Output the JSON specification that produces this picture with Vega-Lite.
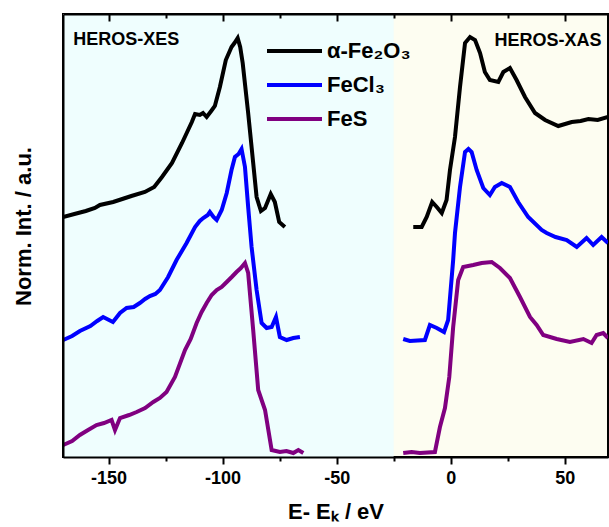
{
  "$schema": "https://vega.github.io/schema/vega-lite/v6.json",
  "width": 545,
  "height": 443,
  "autosize": "none",
  "padding": {"left": 63, "top": 14, "right": 1, "bottom": 70},
  "datasets": {
    "regions": [
      {"region": "HEROS-XES", "start": -170, "end": -25},
      {"region": "HEROS-XAS", "start": -25, "end": 69}
    ],
    "spectra": [
      {"sample": "α-Fe₂O₃", "region": "XES", "E": -170, "I": 240},
      {"sample": "α-Fe₂O₃", "region": "XES", "E": -165, "I": 243},
      {"sample": "α-Fe₂O₃", "region": "XES", "E": -160, "I": 246},
      {"sample": "α-Fe₂O₃", "region": "XES", "E": -156, "I": 249},
      {"sample": "α-Fe₂O₃", "region": "XES", "E": -153.8, "I": 252},
      {"sample": "α-Fe₂O₃", "region": "XES", "E": -148, "I": 255},
      {"sample": "α-Fe₂O₃", "region": "XES", "E": -144, "I": 258},
      {"sample": "α-Fe₂O₃", "region": "XES", "E": -140, "I": 261},
      {"sample": "α-Fe₂O₃", "region": "XES", "E": -134.1, "I": 265},
      {"sample": "α-Fe₂O₃", "region": "XES", "E": -130, "I": 270},
      {"sample": "α-Fe₂O₃", "region": "XES", "E": -126.6, "I": 280},
      {"sample": "α-Fe₂O₃", "region": "XES", "E": -122.2, "I": 294},
      {"sample": "α-Fe₂O₃", "region": "XES", "E": -117.8, "I": 314},
      {"sample": "α-Fe₂O₃", "region": "XES", "E": -113.5, "I": 335},
      {"sample": "α-Fe₂O₃", "region": "XES", "E": -112.1, "I": 343},
      {"sample": "α-Fe₂O₃", "region": "XES", "E": -110, "I": 342},
      {"sample": "α-Fe₂O₃", "region": "XES", "E": -108.6, "I": 344},
      {"sample": "α-Fe₂O₃", "region": "XES", "E": -107, "I": 340},
      {"sample": "α-Fe₂O₃", "region": "XES", "E": -105, "I": 346},
      {"sample": "α-Fe₂O₃", "region": "XES", "E": -103.4, "I": 351},
      {"sample": "α-Fe₂O₃", "region": "XES", "E": -101.2, "I": 370},
      {"sample": "α-Fe₂O₃", "region": "XES", "E": -98.6, "I": 397},
      {"sample": "α-Fe₂O₃", "region": "XES", "E": -96.1, "I": 410},
      {"sample": "α-Fe₂O₃", "region": "XES", "E": -94.8, "I": 414},
      {"sample": "α-Fe₂O₃", "region": "XES", "E": -93.4, "I": 419},
      {"sample": "α-Fe₂O₃", "region": "XES", "E": -92.3, "I": 410},
      {"sample": "α-Fe₂O₃", "region": "XES", "E": -91.2, "I": 394},
      {"sample": "α-Fe₂O₃", "region": "XES", "E": -88.8, "I": 344},
      {"sample": "α-Fe₂O₃", "region": "XES", "E": -87.3, "I": 310},
      {"sample": "α-Fe₂O₃", "region": "XES", "E": -85.1, "I": 260},
      {"sample": "α-Fe₂O₃", "region": "XES", "E": -83.2, "I": 246},
      {"sample": "α-Fe₂O₃", "region": "XES", "E": -81.4, "I": 249},
      {"sample": "α-Fe₂O₃", "region": "XES", "E": -78.9, "I": 263},
      {"sample": "α-Fe₂O₃", "region": "XES", "E": -77.1, "I": 255},
      {"sample": "α-Fe₂O₃", "region": "XES", "E": -75.2, "I": 235},
      {"sample": "α-Fe₂O₃", "region": "XES", "E": -72.7, "I": 230},
      {"sample": "FeCl₃", "region": "XES", "E": -169.9, "I": 117},
      {"sample": "FeCl₃", "region": "XES", "E": -166, "I": 121},
      {"sample": "FeCl₃", "region": "XES", "E": -162.6, "I": 126},
      {"sample": "FeCl₃", "region": "XES", "E": -158, "I": 131},
      {"sample": "FeCl₃", "region": "XES", "E": -155, "I": 136},
      {"sample": "FeCl₃", "region": "XES", "E": -152.4, "I": 140},
      {"sample": "FeCl₃", "region": "XES", "E": -148.1, "I": 135},
      {"sample": "FeCl₃", "region": "XES", "E": -145, "I": 144},
      {"sample": "FeCl₃", "region": "XES", "E": -142.1, "I": 149},
      {"sample": "FeCl₃", "region": "XES", "E": -139, "I": 150},
      {"sample": "FeCl₃", "region": "XES", "E": -136.3, "I": 154},
      {"sample": "FeCl₃", "region": "XES", "E": -134, "I": 158},
      {"sample": "FeCl₃", "region": "XES", "E": -131.9, "I": 161},
      {"sample": "FeCl₃", "region": "XES", "E": -129.5, "I": 163},
      {"sample": "FeCl₃", "region": "XES", "E": -127.5, "I": 167},
      {"sample": "FeCl₃", "region": "XES", "E": -123.9, "I": 180},
      {"sample": "FeCl₃", "region": "XES", "E": -120.2, "I": 197},
      {"sample": "FeCl₃", "region": "XES", "E": -115.8, "I": 214},
      {"sample": "FeCl₃", "region": "XES", "E": -112.1, "I": 230},
      {"sample": "FeCl₃", "region": "XES", "E": -110, "I": 236},
      {"sample": "FeCl₃", "region": "XES", "E": -108.5, "I": 239},
      {"sample": "FeCl₃", "region": "XES", "E": -106.5, "I": 242},
      {"sample": "FeCl₃", "region": "XES", "E": -105.6, "I": 245},
      {"sample": "FeCl₃", "region": "XES", "E": -104, "I": 240},
      {"sample": "FeCl₃", "region": "XES", "E": -102.6, "I": 237},
      {"sample": "FeCl₃", "region": "XES", "E": -100.4, "I": 247},
      {"sample": "FeCl₃", "region": "XES", "E": -98.2, "I": 264},
      {"sample": "FeCl₃", "region": "XES", "E": -96.1, "I": 287},
      {"sample": "FeCl₃", "region": "XES", "E": -94.6, "I": 300},
      {"sample": "FeCl₃", "region": "XES", "E": -93, "I": 303},
      {"sample": "FeCl₃", "region": "XES", "E": -91.7, "I": 308},
      {"sample": "FeCl₃", "region": "XES", "E": -90.2, "I": 290},
      {"sample": "FeCl₃", "region": "XES", "E": -88.8, "I": 250},
      {"sample": "FeCl₃", "region": "XES", "E": -87.3, "I": 210},
      {"sample": "FeCl₃", "region": "XES", "E": -85.1, "I": 167},
      {"sample": "FeCl₃", "region": "XES", "E": -82.9, "I": 134},
      {"sample": "FeCl₃", "region": "XES", "E": -80.7, "I": 129},
      {"sample": "FeCl₃", "region": "XES", "E": -78.5, "I": 130},
      {"sample": "FeCl₃", "region": "XES", "E": -76.6, "I": 140},
      {"sample": "FeCl₃", "region": "XES", "E": -74.9, "I": 120},
      {"sample": "FeCl₃", "region": "XES", "E": -71.9, "I": 117},
      {"sample": "FeCl₃", "region": "XES", "E": -69, "I": 119},
      {"sample": "FeCl₃", "region": "XES", "E": -66.1, "I": 120},
      {"sample": "FeS", "region": "XES", "E": -169.9, "I": 12},
      {"sample": "FeS", "region": "XES", "E": -166, "I": 16},
      {"sample": "FeS", "region": "XES", "E": -162.6, "I": 22},
      {"sample": "FeS", "region": "XES", "E": -159, "I": 27},
      {"sample": "FeS", "region": "XES", "E": -155.3, "I": 32},
      {"sample": "FeS", "region": "XES", "E": -152, "I": 34},
      {"sample": "FeS", "region": "XES", "E": -148.7, "I": 37},
      {"sample": "FeS", "region": "XES", "E": -147.2, "I": 27},
      {"sample": "FeS", "region": "XES", "E": -145, "I": 39},
      {"sample": "FeS", "region": "XES", "E": -141, "I": 42},
      {"sample": "FeS", "region": "XES", "E": -137.7, "I": 45},
      {"sample": "FeS", "region": "XES", "E": -134, "I": 49},
      {"sample": "FeS", "region": "XES", "E": -130.4, "I": 55},
      {"sample": "FeS", "region": "XES", "E": -127.5, "I": 59},
      {"sample": "FeS", "region": "XES", "E": -124.6, "I": 65},
      {"sample": "FeS", "region": "XES", "E": -120.9, "I": 80},
      {"sample": "FeS", "region": "XES", "E": -116.5, "I": 107},
      {"sample": "FeS", "region": "XES", "E": -114, "I": 118},
      {"sample": "FeS", "region": "XES", "E": -111.4, "I": 134},
      {"sample": "FeS", "region": "XES", "E": -109.2, "I": 145},
      {"sample": "FeS", "region": "XES", "E": -107, "I": 154},
      {"sample": "FeS", "region": "XES", "E": -104.8, "I": 162},
      {"sample": "FeS", "region": "XES", "E": -102.6, "I": 167},
      {"sample": "FeS", "region": "XES", "E": -100.4, "I": 170},
      {"sample": "FeS", "region": "XES", "E": -98.2, "I": 175},
      {"sample": "FeS", "region": "XES", "E": -96, "I": 180},
      {"sample": "FeS", "region": "XES", "E": -93.9, "I": 185},
      {"sample": "FeS", "region": "XES", "E": -92, "I": 189},
      {"sample": "FeS", "region": "XES", "E": -90.2, "I": 194},
      {"sample": "FeS", "region": "XES", "E": -88.8, "I": 184},
      {"sample": "FeS", "region": "XES", "E": -86.6, "I": 127},
      {"sample": "FeS", "region": "XES", "E": -84.4, "I": 67},
      {"sample": "FeS", "region": "XES", "E": -81.4, "I": 47},
      {"sample": "FeS", "region": "XES", "E": -78.5, "I": 7},
      {"sample": "FeS", "region": "XES", "E": -74.9, "I": 5},
      {"sample": "FeS", "region": "XES", "E": -72, "I": 6},
      {"sample": "FeS", "region": "XES", "E": -69, "I": 4},
      {"sample": "FeS", "region": "XES", "E": -66.8, "I": 7},
      {"sample": "FeS", "region": "XES", "E": -64.6, "I": 4},
      {"sample": "α-Fe₂O₃", "region": "XAS", "E": -16.4, "I": 230},
      {"sample": "α-Fe₂O₃", "region": "XAS", "E": -12.7, "I": 230},
      {"sample": "α-Fe₂O₃", "region": "XAS", "E": -10.5, "I": 240},
      {"sample": "α-Fe₂O₃", "region": "XAS", "E": -8.1, "I": 255},
      {"sample": "α-Fe₂O₃", "region": "XAS", "E": -6.1, "I": 250},
      {"sample": "α-Fe₂O₃", "region": "XAS", "E": -3.9, "I": 244},
      {"sample": "α-Fe₂O₃", "region": "XAS", "E": -1.8, "I": 257},
      {"sample": "α-Fe₂O₃", "region": "XAS", "E": -0.3, "I": 287},
      {"sample": "α-Fe₂O₃", "region": "XAS", "E": 1.9, "I": 320},
      {"sample": "α-Fe₂O₃", "region": "XAS", "E": 4.1, "I": 370},
      {"sample": "α-Fe₂O₃", "region": "XAS", "E": 6.3, "I": 414},
      {"sample": "α-Fe₂O₃", "region": "XAS", "E": 8.5, "I": 420},
      {"sample": "α-Fe₂O₃", "region": "XAS", "E": 10.7, "I": 417},
      {"sample": "α-Fe₂O₃", "region": "XAS", "E": 12.9, "I": 404},
      {"sample": "α-Fe₂O₃", "region": "XAS", "E": 15, "I": 385},
      {"sample": "α-Fe₂O₃", "region": "XAS", "E": 17.2, "I": 377},
      {"sample": "α-Fe₂O₃", "region": "XAS", "E": 20.9, "I": 375},
      {"sample": "α-Fe₂O₃", "region": "XAS", "E": 23.1, "I": 385},
      {"sample": "α-Fe₂O₃", "region": "XAS", "E": 26, "I": 389},
      {"sample": "α-Fe₂O₃", "region": "XAS", "E": 28.9, "I": 377},
      {"sample": "α-Fe₂O₃", "region": "XAS", "E": 32.6, "I": 360},
      {"sample": "α-Fe₂O₃", "region": "XAS", "E": 37, "I": 344},
      {"sample": "α-Fe₂O₃", "region": "XAS", "E": 41.4, "I": 337},
      {"sample": "α-Fe₂O₃", "region": "XAS", "E": 47.2, "I": 331},
      {"sample": "α-Fe₂O₃", "region": "XAS", "E": 53.1, "I": 335},
      {"sample": "α-Fe₂O₃", "region": "XAS", "E": 57, "I": 336},
      {"sample": "α-Fe₂O₃", "region": "XAS", "E": 60.4, "I": 338},
      {"sample": "α-Fe₂O₃", "region": "XAS", "E": 64.5, "I": 337},
      {"sample": "α-Fe₂O₃", "region": "XAS", "E": 69, "I": 340},
      {"sample": "FeCl₃", "region": "XAS", "E": -20.8, "I": 118},
      {"sample": "FeCl₃", "region": "XAS", "E": -17.9, "I": 116},
      {"sample": "FeCl₃", "region": "XAS", "E": -11.3, "I": 117},
      {"sample": "FeCl₃", "region": "XAS", "E": -9.1, "I": 132},
      {"sample": "FeCl₃", "region": "XAS", "E": -6.1, "I": 129},
      {"sample": "FeCl₃", "region": "XAS", "E": -2.9, "I": 125},
      {"sample": "FeCl₃", "region": "XAS", "E": -1.1, "I": 137},
      {"sample": "FeCl₃", "region": "XAS", "E": 1.1, "I": 197},
      {"sample": "FeCl₃", "region": "XAS", "E": 1.9, "I": 224},
      {"sample": "FeCl₃", "region": "XAS", "E": 4.1, "I": 270},
      {"sample": "FeCl₃", "region": "XAS", "E": 6.3, "I": 305},
      {"sample": "FeCl₃", "region": "XAS", "E": 7.8, "I": 308},
      {"sample": "FeCl₃", "region": "XAS", "E": 9.2, "I": 305},
      {"sample": "FeCl₃", "region": "XAS", "E": 11.4, "I": 287},
      {"sample": "FeCl₃", "region": "XAS", "E": 14.3, "I": 269},
      {"sample": "FeCl₃", "region": "XAS", "E": 17.2, "I": 262},
      {"sample": "FeCl₃", "region": "XAS", "E": 19.4, "I": 270},
      {"sample": "FeCl₃", "region": "XAS", "E": 22.4, "I": 274},
      {"sample": "FeCl₃", "region": "XAS", "E": 26, "I": 270},
      {"sample": "FeCl₃", "region": "XAS", "E": 29.6, "I": 255},
      {"sample": "FeCl₃", "region": "XAS", "E": 34, "I": 240},
      {"sample": "FeCl₃", "region": "XAS", "E": 39.9, "I": 227},
      {"sample": "FeCl₃", "region": "XAS", "E": 42.1, "I": 224},
      {"sample": "FeCl₃", "region": "XAS", "E": 46, "I": 220},
      {"sample": "FeCl₃", "region": "XAS", "E": 50.9, "I": 217},
      {"sample": "FeCl₃", "region": "XAS", "E": 55.3, "I": 210},
      {"sample": "FeCl₃", "region": "XAS", "E": 59.6, "I": 219},
      {"sample": "FeCl₃", "region": "XAS", "E": 62.5, "I": 212},
      {"sample": "FeCl₃", "region": "XAS", "E": 66.2, "I": 220},
      {"sample": "FeCl₃", "region": "XAS", "E": 69, "I": 214},
      {"sample": "FeS", "region": "XAS", "E": -20.8, "I": 4},
      {"sample": "FeS", "region": "XAS", "E": -17.1, "I": 5},
      {"sample": "FeS", "region": "XAS", "E": -13.5, "I": 4},
      {"sample": "FeS", "region": "XAS", "E": -6.9, "I": 5},
      {"sample": "FeS", "region": "XAS", "E": -4.7, "I": 30},
      {"sample": "FeS", "region": "XAS", "E": -2.5, "I": 49},
      {"sample": "FeS", "region": "XAS", "E": -0.6, "I": 80},
      {"sample": "FeS", "region": "XAS", "E": 1.1, "I": 130},
      {"sample": "FeS", "region": "XAS", "E": 3.3, "I": 177},
      {"sample": "FeS", "region": "XAS", "E": 5.5, "I": 190},
      {"sample": "FeS", "region": "XAS", "E": 9.9, "I": 192},
      {"sample": "FeS", "region": "XAS", "E": 13.6, "I": 194},
      {"sample": "FeS", "region": "XAS", "E": 18, "I": 195},
      {"sample": "FeS", "region": "XAS", "E": 21.6, "I": 189},
      {"sample": "FeS", "region": "XAS", "E": 26, "I": 179},
      {"sample": "FeS", "region": "XAS", "E": 30.4, "I": 160},
      {"sample": "FeS", "region": "XAS", "E": 34.8, "I": 140},
      {"sample": "FeS", "region": "XAS", "E": 37.7, "I": 132},
      {"sample": "FeS", "region": "XAS", "E": 40.6, "I": 122},
      {"sample": "FeS", "region": "XAS", "E": 46.5, "I": 118},
      {"sample": "FeS", "region": "XAS", "E": 52.3, "I": 115},
      {"sample": "FeS", "region": "XAS", "E": 58.2, "I": 118},
      {"sample": "FeS", "region": "XAS", "E": 61.8, "I": 114},
      {"sample": "FeS", "region": "XAS", "E": 64, "I": 122},
      {"sample": "FeS", "region": "XAS", "E": 66.9, "I": 124},
      {"sample": "FeS", "region": "XAS", "E": 69, "I": 119}
    ]
  },
  "layer": [
    {
      "data": {"name": "regions"},
      "transform": [{"filter": "datum.region === 'HEROS-XES'"}],
      "mark": {"type": "rect", "color": "#EFFEFE"},
      "encoding": {
        "x": {
          "field": "start",
          "type": "quantitative",
          "scale": {"domain": [-170, 69], "nice": false, "zero": false},
          "axis": {
            "orient": "bottom",
            "values": [-150, -125, -100, -75, -50, -25, 0, 25, 50],
            "labelExpr": "datum.value % 50 === 0 ? '' + datum.value : ''",
            "tickSize": {"condition": {"test": "datum.value % 50 === 0", "value": 7}, "value": 4},
            "tickWidth": 2,
            "tickColor": "black",
            "domainColor": "black",
            "domainWidth": 2,
            "grid": false,
            "zindex": 1,
            "labelFontSize": 18,
            "labelFontWeight": "bold",
            "labelColor": "black",
            "labelPadding": 5,
            "labelFlush": false,
            "labelOverlap": false,
            "title": "E- Eₖ / eV",
            "titleFontSize": 22,
            "titleFontWeight": "bold",
            "titleColor": "black",
            "titlePadding": 14
          }
        },
        "x2": {"field": "end"}
      }
    },
    {
      "data": {"name": "spectra"},
      "mark": {"type": "line", "strokeWidth": 4, "clip": true},
      "encoding": {
        "x": {
          "field": "E",
          "type": "quantitative",
          "scale": {"domain": [-170, 69], "nice": false, "zero": false},
          "axis": {
            "orient": "top",
            "values": [-150, -125, -100, -75, -50, -25, 0, 25, 50],
            "labels": false,
            "title": null,
            "tickSize": {"condition": {"test": "datum.value % 50 === 0", "value": -7}, "value": -4},
            "tickWidth": 2,
            "tickColor": "black",
            "domainColor": "black",
            "domainWidth": 2,
            "grid": false,
            "zindex": 1
          }
        },
        "y": {
          "field": "I",
          "type": "quantitative",
          "scale": {"domain": [0, 443], "nice": false},
          "axis": {
            "ticks": false,
            "labels": false,
            "grid": false,
            "domainColor": "black",
            "domainWidth": 2,
            "zindex": 1,
            "title": "Norm. Int. / a.u.",
            "titleFontSize": 22,
            "titleFontWeight": "bold",
            "titleColor": "black",
            "titlePadding": 28,
            "titleY": 212
          }
        },
        "color": {
          "field": "sample",
          "type": "nominal",
          "scale": {"domain": ["α-Fe₂O₃", "FeCl₃", "FeS"], "range": ["#000000", "#0000FF", "#800080"]},
          "legend": {
            "title": null,
            "orient": "none",
            "legendX": 202,
            "legendY": 20,
            "symbolType": "stroke",
            "symbolSize": 3025,
            "symbolStrokeWidth": 4,
            "clipHeight": 34,
            "rowPadding": 0,
            "labelFontSize": 22,
            "labelFontWeight": "bold",
            "labelColor": "black",
            "labelOffset": 3,
            "labelLimit": 250
          }
        },
        "detail": {"field": "region"}
      }
    },
    {
      "data": {"name": "regions"},
      "transform": [{"filter": "datum.region === 'HEROS-XES'"}],
      "mark": {"type": "text", "align": "left", "baseline": "alphabetic", "fontSize": 18, "fontWeight": "bold", "color": "black"},
      "encoding": {
        "x": {"datum": -165.5, "type": "quantitative", "axis": null},
        "y": {"datum": 412, "type": "quantitative"},
        "text": {"field": "region"}
      }
    },
    {
      "data": {"name": "regions"},
      "transform": [{"filter": "datum.region === 'HEROS-XAS'"}],
      "mark": {"type": "text", "align": "right", "baseline": "alphabetic", "fontSize": 18, "fontWeight": "bold", "color": "black"},
      "encoding": {
        "x": {"datum": 66.2, "type": "quantitative", "axis": null},
        "y": {"datum": 411, "type": "quantitative"},
        "text": {"field": "region"}
      }
    }
  ],
  "resolve": {"axis": {"x": "independent"}},
  "config": {
    "font": "Liberation Sans",
    "view": {"stroke": "black", "strokeWidth": 2, "fill": "#FDFDF1"}
  }
}
